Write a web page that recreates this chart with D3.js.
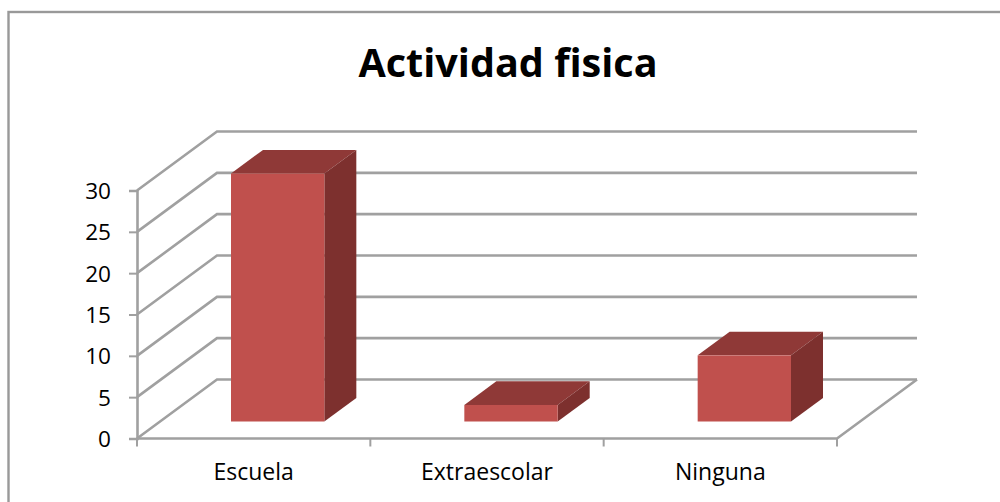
<!DOCTYPE html>
<html>
<head>
<meta charset="utf-8">
<script src="https://cdn.jsdelivr.net/npm/d3@7"></script>
<style>
  html, body { margin: 0; padding: 0; background: #fff; overflow: hidden; }
  text { font-family: "Open Sans", Lato, sans-serif; fill: #000; }
</style>
</head>
<body>
<div class="main"></div>
<script>
const categories = ["Escuela", "Extraescolar", "Ninguna"];
const values = [30, 2, 8];
const tickValues = [0, 5, 10, 15, 20, 25, 30];
const chartTitle = "Actividad fisica";

const width = 1000, height = 502;
const grey = "#a0a0a0";

// depth of the 3d box, floor to back wall
const depthX = 80, depthY = -59;

const svg = d3.select(".main").append("svg")
    .attr("width", width)
    .attr("height", height)
    .style("display", "block");

// outer frame, right and bottom edges fall off the picture
svg.append("rect")
    .attr("x", 8.5).attr("y", 12)
    .attr("width", 1010).attr("height", 520)
    .style("fill", "#fff")
    .style("stroke", "#999")
    .style("stroke-width", 2.4);

svg.append("text")
    .attr("x", 508).attr("y", 77)
    .attr("text-anchor", "middle")
    .style("font-size", "39.6px")
    .style("font-weight", "700")
    .text(chartTitle);

const x = d3.scaleBand().domain(categories).range([137, 837]).paddingInner(0.6).paddingOuter(0.3);
const xTicks = d3.scaleBand().domain(categories).range([137, 837]);
const y = d3.scaleLinear().domain([0, 30]).range([438.5, 190.5]);

// gridlines: side wall + back wall
const grid = svg.append("g").style("fill", "none").style("stroke", grey).style("stroke-width", 2.6);
tickValues.forEach(function(t) {
    grid.append("path")
        .attr("d", d3.line()([
            [137, y(t)],
            [137 + depthX, y(t) + depthY],
            [837 + depthX, y(t) + depthY]
        ]));
});

// floor front + right edge
grid.append("path")
    .attr("d", d3.line()([
        [137, y(0)],
        [837, y(0)],
        [837 + depthX, y(0) + depthY]
    ]));

// y axis
const yAxis = svg.append("g")
    .attr("transform", "translate(137,0)")
    .call(d3.axisLeft(y).tickValues(tickValues).tickSize(8).tickPadding(18).tickFormat(d3.format("d")));
yAxis.selectAll("line").style("stroke", grey).style("stroke-width", 2);
yAxis.select(".domain").style("stroke", grey).style("stroke-width", 2.6);
yAxis.selectAll("text").style("font-size", "22.6px").attr("dy", "0.36em");

// x axis: ticks between the categories, labels at band centres
const xAxisG = svg.append("g");
xAxisG.selectAll("line")
    .data(categories.concat(["end"]))
    .enter().append("line")
    .attr("x1", function(d, i) { return i < categories.length ? xTicks(d) : xTicks.range()[1]; })
    .attr("x2", function(d, i) { return i < categories.length ? xTicks(d) : xTicks.range()[1]; })
    .attr("y1", y(0))
    .attr("y2", y(0) + 8)
    .style("stroke", grey)
    .style("stroke-width", 2);
xAxisG.selectAll("text")
    .data(categories)
    .enter().append("text")
    .attr("x", function(d) { return xTicks(d) + xTicks.bandwidth() / 2; })
    .attr("y", 480)
    .attr("text-anchor", "middle")
    .style("font-size", "23px")
    .text(function(d) { return d; });

// bars sit 30% into the depth and use 40% of it
const barOffX = depthX * 0.3, barOffY = -17;
const barDepthX = depthX * 0.4, barDepthY = depthY * 0.4;

const bars = svg.selectAll(".bar")
    .data(categories.map(function(c, i) { return {cat: c, val: values[i]}; }))
    .enter().append("g")
    .attr("class", "bar");

function barBox(d) {
    const x0 = x(d.cat) + barOffX;
    const x1 = x0 + x.bandwidth();
    const y0 = y(0) + barOffY;
    const y1 = y(d.val) + barOffY;
    return {x0: x0, x1: x1, y0: y0, y1: y1};
}

// top face
bars.append("path")
    .style("fill", "#8f3937")
    .attr("d", function(d) {
        const b = barBox(d);
        return d3.line()([
            [b.x0, b.y1], [b.x1, b.y1],
            [b.x1 + barDepthX, b.y1 + barDepthY],
            [b.x0 + barDepthX, b.y1 + barDepthY]
        ]) + "Z";
    });

// side face
bars.append("path")
    .style("fill", "#7d302e")
    .attr("d", function(d) {
        const b = barBox(d);
        return d3.line()([
            [b.x1, b.y1], [b.x1 + barDepthX, b.y1 + barDepthY],
            [b.x1 + barDepthX, b.y0 + barDepthY], [b.x1, b.y0]
        ]) + "Z";
    });

// front face
bars.append("rect")
    .style("fill", "#c0504d")
    .attr("x", function(d) { return barBox(d).x0; })
    .attr("y", function(d) { return barBox(d).y1; })
    .attr("width", x.bandwidth())
    .attr("height", function(d) { const b = barBox(d); return b.y0 - b.y1; });
</script>
</body>
</html>
